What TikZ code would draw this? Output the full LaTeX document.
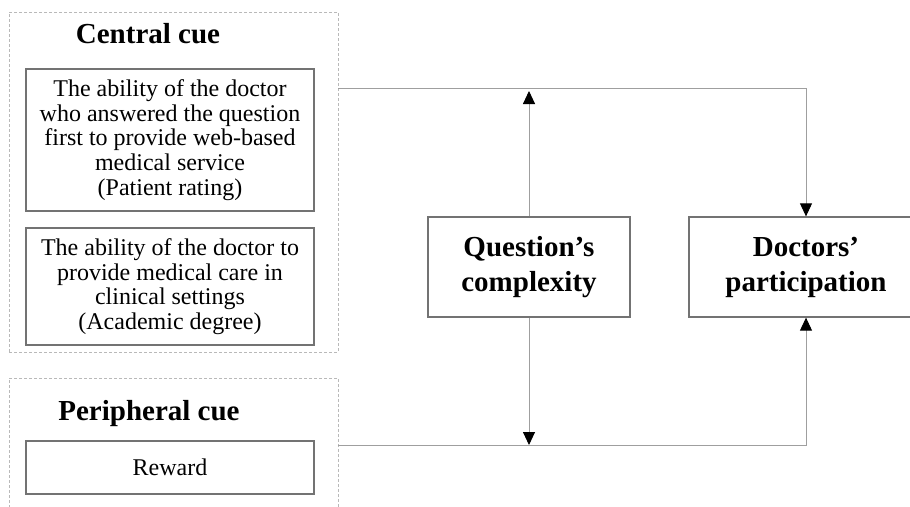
\documentclass[tikz,border=0pt]{standalone}
\usepackage{fontspec}
\setmainfont{Liberation Serif}
\usepackage{tikz}
\usetikzlibrary{arrows.meta, positioning}

\begin{document}
\begin{tikzpicture}[x=1pt, y=-1pt,
        cue/.style = {
            rectangle,
            draw=gray!55,
            dash pattern=on 3pt off 2pt,
            line width=0.9pt,
            inner sep=0pt
        },
        ability/.style = {
            rectangle,
            draw=gray!90!black,
            line width=1.3pt,
            align = center,
            font = \fontsize{24}{24.6}\selectfont,
            minimum width=288pt
        },
        construct/.style = {
            rectangle,
            draw=gray!90!black,
            line width=1.3pt,
            align = center,
            font = \fontsize{29}{35}\selectfont\bfseries,
            minimum height=100pt
        },
        title/.style = {
            anchor=base,
            font = \fontsize{29}{35}\selectfont\bfseries
        },
        link/.style = {
            draw=gray!75,
            line width=0.9pt,
            -{Triangle[length=13pt, width=12pt, color=black]}
        }  ]

        \useasboundingbox (0,0) rectangle (910,506);

        % cue groups
        \node (central) [cue, minimum width=329pt, minimum height=340pt] at (173.5,182) {};
        \node (peripheral) [cue, minimum width=329pt, minimum height=160pt] at (173.5,458) {};

        \node (central_title) [title] at (148,43) {Central cue};
        \node (peripheral_title) [title] at (149,420) {Peripheral cue};

        \node (rating) [ability, minimum height=142pt] at (170,140)
            {The ability of the doctor\\who answered the question\\first to provide web-based\\medical service\\(Patient rating)};
        \node (degree) [ability, minimum height=117pt] at (170,286.5)
            {The ability of the doctor to\\provide medical care in\\clinical settings\\(Academic degree)};
        \node (reward) [ability, minimum height=53pt] at (170,467.5) {Reward};

        % constructs
        \node (complexity) [construct, minimum width=202pt] at (529,267) {Question’s\\complexity};
        \node (participation) [construct, minimum width=234pt] at (806,267) {Doctors’\\participation};

        \coordinate (top_join) at (806,88);
        \coordinate (bottom_join) at (806,445);

        \draw[link] (central.east |- top_join) -- (top_join) -- (participation.north);
        \draw[link, shorten >=3pt] (complexity.north) -- (complexity.north |- top_join);
        \draw[link] (peripheral.east |- bottom_join) -- (bottom_join) -- (participation.south);
        \draw[link] (complexity.south) -- (complexity.south |- bottom_join);
    \end{tikzpicture}
\end{document}
